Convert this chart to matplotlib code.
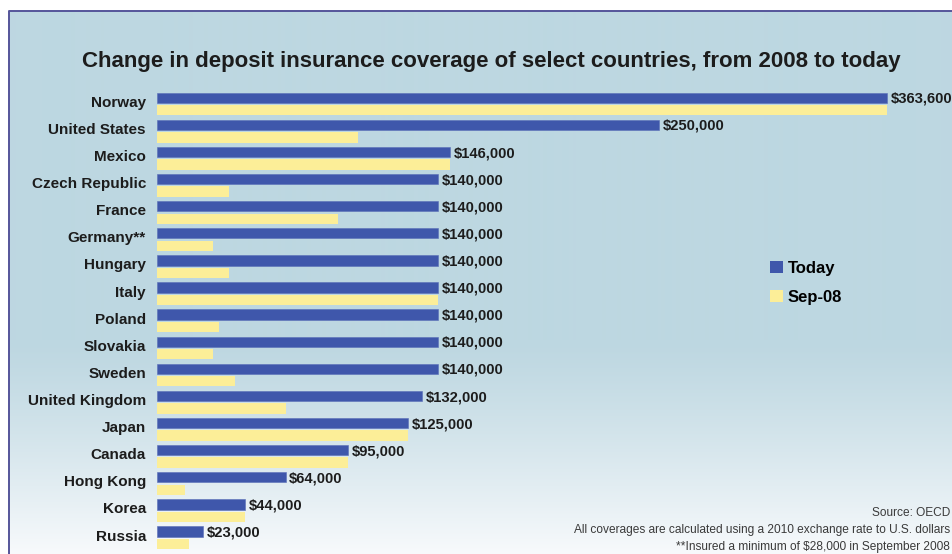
import matplotlib
matplotlib.use("Agg")
import matplotlib.pyplot as plt
import numpy as np
from matplotlib.patches import Patch

# Deposit insurance coverage in US dollars, top row first
countries = ["Norway", "United States", "Mexico", "Czech Republic", "France",
             "Germany**", "Hungary", "Italy", "Poland", "Slovakia", "Sweden",
             "United Kingdom", "Japan", "Canada", "Hong Kong", "Korea", "Russia"]
today = [363600, 250000, 146000, 140000, 140000, 140000, 140000, 140000,
         140000, 140000, 140000, 132000, 125000, 95000, 64000, 44000, 23000]
sep08 = [363600, 100000, 146000, 36000, 90000, 28000, 36000, 140000,
         31000, 28000, 39000, 64000, 125000, 95000, 14000, 44000, 16000]
series_names = ["Today", "Sep-08"]

title = "Change in deposit insurance coverage of select countries, from 2008 to today"
notes = ["Source: OECD",
         "All coverages are calculated using a 2010 exchange rate to U.S. dollars",
         "**Insured a minimum of $28,000 in September 2008"]

c_today = "#3F57AB"
c_sep = "#FCEE98"
c_text = "#1c1c1c"
bg_top = np.array([189, 215, 225]) / 255.0
bg_bot = np.array([248, 250, 252]) / 255.0

plt.rcParams["font.family"] = ["Liberation Sans", "DejaVu Sans"]

W, H = 953, 554
fig = plt.figure(figsize=(W / 100, H / 100), dpi=100)
fig.patch.set_facecolor("white")

# background panel: flat blue that fades to white near the bottom
bg = fig.add_axes([0, 0, 1, 1], zorder=0)
bg.set_xlim(0, W)
bg.set_ylim(H, 0)
bg.axis("off")
rows = np.arange(11, H)
t = np.clip((rows - 340) / (H - 340), 0, 1) ** 1.2
grad = bg_top[None, :] * (1 - t[:, None]) + bg_bot[None, :] * t[:, None]
bg.imshow(grad[:, None, :], extent=(9, W, H, 11), aspect="auto", interpolation="bilinear")
bg.plot([9, 9, W], [H, 11, 11], color="#55559a", lw=1.4, solid_capstyle="butt")

# bar panel
ax = fig.add_axes([157 / W, 0, (W - 157) / W, (H - 80) / H], zorder=1)
ax.patch.set_visible(False)
y = np.arange(len(countries))
off, bh = 0.23, 0.38
ax.barh(y - off, today, height=bh, color=c_today, edgecolor="#5a6fb8", linewidth=0.4)
ax.barh(y + off, sep08, height=bh, color=c_sep, edgecolor="none")

for yi, v in zip(y, today):
    ax.text(v + 1800, yi - off + 0.04, f"${v:,}", ha="left", va="center",
            fontsize=10.6, fontweight="bold", color=c_text, clip_on=False)

ax.set_xlim(0, 396400)
ax.set_ylim(16.6, -0.886)
ax.set_xticks([])
ax.set_yticks(y - 0.1)
ax.set_yticklabels(countries, fontsize=11, fontweight="bold", color=c_text)
ax.tick_params(axis="y", length=0, pad=8)
for s in ax.spines.values():
    s.set_visible(False)

fig.text(491 / W, 1 - 62 / H, title, ha="center", va="center",
         fontsize=16, fontweight="bold", color=c_text)

handles = [Patch(facecolor=c_today, label=series_names[0]),
           Patch(facecolor=c_sep, label=series_names[1])]
fig.legend(handles=handles, loc="upper left", bbox_to_anchor=(755 / W, 1 - 246 / H),
           frameon=False, handlelength=0.75, handleheight=0.75, handletextpad=0.3,
           labelspacing=0.85, prop={"weight": "bold", "size": 12})

for k, line in enumerate(notes):
    fig.text(950 / W, 1 - (513 + 17 * k) / H, line, ha="right", va="center",
             fontsize=8.6, color="#3a3a3a")

fig.savefig("out.png", dpi=100, facecolor="white")
